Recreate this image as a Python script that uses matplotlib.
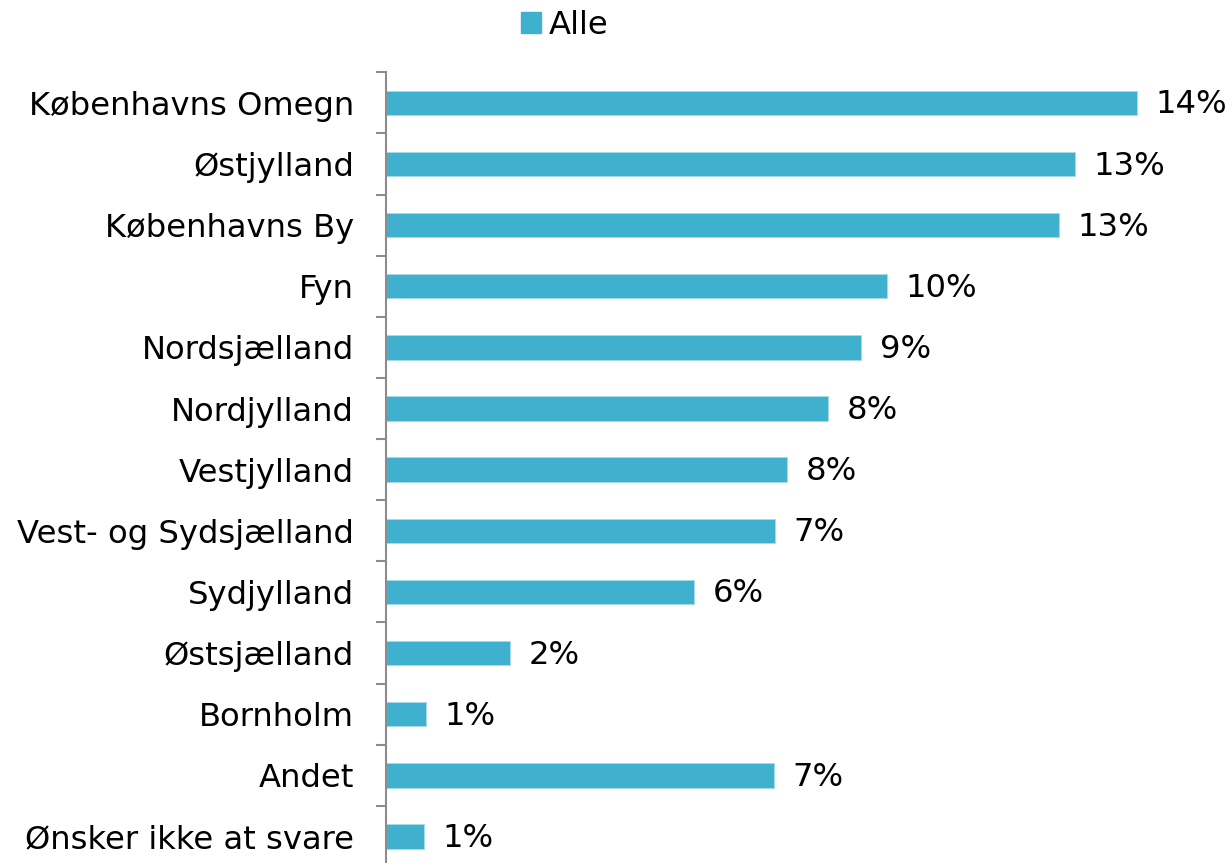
import matplotlib
matplotlib.use("Agg")
from matplotlib import pyplot as plt
import matplotlib.patches as patches

regions = [
    "Københavns Omegn",
    "Østjylland",
    "Københavns By",
    "Fyn",
    "Nordsjælland",
    "Nordjylland",
    "Vestjylland",
    "Vest- og Sydsjælland",
    "Sydjylland",
    "Østsjælland",
    "Bornholm",
    "Andet",
    "Ønsker ikke at svare",
]
shares = [14.36, 13.17, 12.87, 9.58, 9.08, 8.45, 7.67, 7.44, 5.89, 2.37, 0.76, 7.42, 0.73]
series_name = "Alle"

bar_color = "#3FB0CD"
axis_color = "#8c8c8c"
font_size = 23.2

W, H = 1231, 863
fig = plt.figure(figsize=(W / 100, H / 100), dpi=100)
# axes box in pixel terms: left at the y axis line, top at first tick
left, right, top, bottom = 386, 1231, 72.3, 867
ax = fig.add_axes([left / W, 1 - bottom / H, (right - left) / W, (bottom - top) / H])

n = len(regions)
ypos = list(range(n))
ax.barh(ypos, shares, height=0.4, color=bar_color, edgecolor="#a8dbe8", linewidth=0.6)
ax.set_ylim(n - 0.5, -0.5)
ax.set_xlim(0, (right - left) / 52.3)

# value labels
for y, v in zip(ypos, shares):
    ax.annotate(f"{round(v)}%", (v, y), xytext=(13.5, -1.5), textcoords="offset points",
                ha="left", va="center", fontsize=font_size, color="black")

# category labels, ticks at category borders
ax.set_yticks(ypos)
ax.set_yticklabels(regions, fontsize=font_size)
ax.tick_params(axis="y", which="major", length=0, pad=23)
ax.set_yticks([i - 0.5 for i in range(n + 1)], minor=True)
ax.tick_params(axis="y", which="minor", length=7.2, width=1.5, color=axis_color, direction="out")

ax.set_xticks([])
for side in ["top", "right", "bottom"]:
    ax.spines[side].set_visible(False)
ax.spines["left"].set_color(axis_color)
ax.spines["left"].set_linewidth(1.5)

handle = patches.Patch(color=bar_color, label=series_name)
fig.legend(handles=[handle], loc="center", bbox_to_anchor=(565 / W, 1 - 25 / H),
           frameon=False, fontsize=font_size, handlelength=0.62, handleheight=0.62,
           handletextpad=0.25, borderaxespad=0)

fig.savefig("out.png", dpi=100)
